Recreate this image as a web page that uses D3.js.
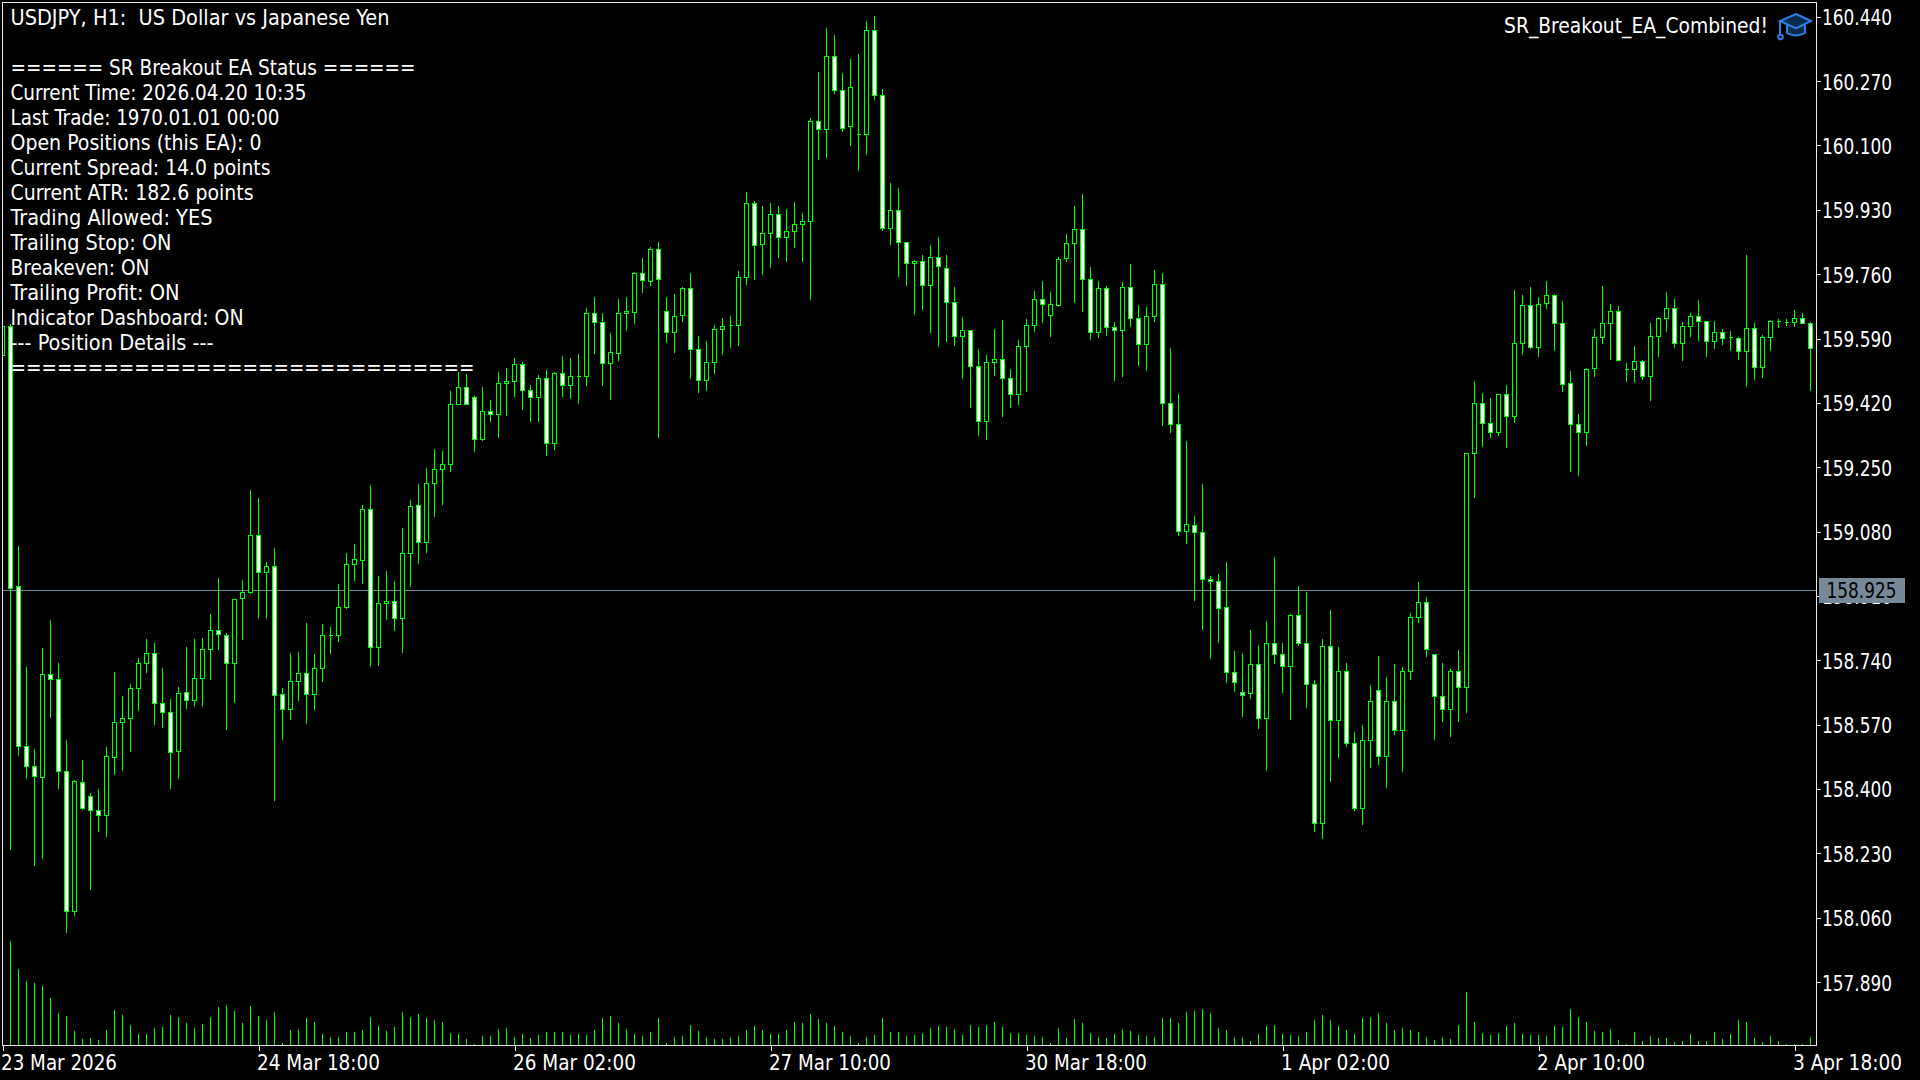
<!DOCTYPE html>
<html><head><meta charset="utf-8">
<script src="https://cdn.jsdelivr.net/npm/d3@7"></script>
<style>
html,body{margin:0;padding:0;background:#000;overflow:hidden}
svg{display:block}
text{font-family:"DejaVu Sans",sans-serif;font-stretch:condensed;fill:#fff;white-space:pre}
</style></head><body>
<script>
const opens=[159.544,159.621,158.935,158.513,158.460,158.431,158.703,158.689,158.447,158.076,
158.417,158.379,158.343,158.330,158.483,158.575,158.586,158.666,158.731,158.758,
158.626,158.602,158.499,158.655,158.634,158.692,158.768,158.819,158.806,158.731,
158.904,158.919,159.069,158.973,158.988,158.649,158.609,158.685,158.706,158.649,
158.719,158.806,158.805,158.879,158.993,159.003,159.139,158.774,158.890,158.896,
158.850,159.022,159.150,159.051,159.207,159.245,159.256,159.416,159.461,159.435,
159.322,159.398,159.388,159.472,159.476,159.522,159.454,159.435,159.485,159.314,
159.498,159.467,159.490,159.489,159.657,159.633,159.525,159.551,159.657,159.660,
159.763,159.741,159.826,159.662,159.607,159.651,159.723,159.562,159.480,159.526,
159.615,159.624,159.625,159.750,159.948,159.838,159.868,159.919,159.858,159.874,
159.890,159.898,160.164,160.143,160.336,160.246,160.149,160.128,160.130,160.405,
160.231,159.882,159.929,159.845,159.788,159.794,159.730,159.805,159.776,159.686,
159.595,159.610,159.517,159.371,159.526,159.535,159.485,159.442,159.569,159.624,
159.694,159.651,159.677,159.801,159.841,159.879,159.747,159.606,159.723,159.620,
159.611,159.726,159.644,159.574,159.648,159.734,159.419,159.364,159.080,159.097,
159.077,158.954,158.948,158.879,158.707,158.654,158.652,158.730,158.586,158.785,
158.756,158.723,158.859,158.785,158.677,158.308,158.777,158.580,158.711,158.521,
158.348,158.528,158.661,158.485,158.632,158.554,158.710,158.854,158.893,158.756,
158.645,158.610,158.711,158.668,159.285,159.419,159.366,159.342,159.443,159.384,
159.577,159.678,159.566,159.682,159.705,159.631,159.470,159.364,159.342,159.511,
159.593,159.631,159.662,159.507,159.509,159.530,159.490,159.595,159.644,159.670,
159.577,159.622,159.649,159.636,159.582,159.607,159.592,159.591,159.556,159.617,
159.513,159.593,159.635,159.632,159.632,159.644,159.631];
const highs=[159.626,159.629,159.043,158.722,158.505,158.773,158.846,158.732,158.530,158.424,
158.477,158.390,158.400,158.511,158.709,158.646,158.677,158.746,158.795,158.786,
158.720,158.638,158.670,158.775,158.795,158.799,158.862,158.957,158.811,158.901,
158.952,159.190,159.169,159.000,159.037,158.667,158.759,158.762,158.839,158.756,
158.836,158.828,158.942,159.024,159.048,159.151,159.203,158.963,158.976,158.950,
159.090,159.164,159.206,159.248,159.299,159.293,159.452,159.502,159.497,159.439,
159.462,159.428,159.502,159.513,159.539,159.528,159.468,159.494,159.507,159.502,
159.544,159.539,159.549,159.671,159.700,159.658,159.605,159.695,159.700,159.765,
159.803,159.832,159.845,159.700,159.708,159.727,159.763,159.597,159.584,159.626,
159.645,159.650,159.769,159.978,159.954,159.941,159.948,159.941,159.933,159.951,
159.922,160.173,160.295,160.411,160.392,160.292,160.329,160.342,160.429,160.443,
160.250,160.001,159.988,159.845,159.798,159.811,159.837,159.859,159.811,159.727,
159.647,159.610,159.563,159.547,159.616,159.639,159.510,159.586,159.642,159.716,
159.742,159.713,159.806,159.867,159.941,159.972,159.779,159.742,159.729,159.634,
159.740,159.787,159.679,159.674,159.771,159.763,159.565,159.444,159.320,159.121,
159.206,158.963,158.968,159.000,158.765,158.759,158.820,158.781,158.844,159.013,
158.786,158.862,158.937,158.921,158.688,158.796,158.873,158.775,158.733,158.551,
158.569,158.675,158.751,158.696,158.730,158.722,158.864,158.947,158.907,158.756,
158.733,158.717,158.767,159.285,159.478,159.446,159.433,159.443,159.468,159.719,
159.705,159.727,159.700,159.742,159.707,159.689,159.505,159.391,159.512,159.616,
159.729,159.682,159.676,159.526,159.571,159.534,159.631,159.646,159.713,159.695,
159.634,159.658,159.692,159.637,159.637,159.616,159.610,159.594,159.811,159.631,
159.600,159.639,159.642,159.642,159.666,159.658,159.634];
const lows=[159.528,158.242,158.491,158.428,158.198,158.217,158.591,158.403,158.021,158.067,
158.347,158.137,158.290,158.277,158.439,158.449,158.501,158.609,158.710,158.572,
158.565,158.403,158.430,158.613,158.619,158.618,158.691,158.771,158.558,158.631,
158.797,158.919,158.851,158.851,158.370,158.533,158.586,158.634,158.575,158.612,
158.684,158.758,158.792,158.879,158.952,158.945,158.726,158.728,158.849,158.820,
158.762,158.937,158.998,159.025,159.122,159.154,159.239,159.416,159.416,159.292,
159.322,159.371,159.329,159.387,159.437,159.404,159.371,159.373,159.283,159.299,
159.439,159.434,159.421,159.468,159.553,159.468,159.431,159.534,159.613,159.631,
159.713,159.732,159.331,159.581,159.555,159.637,159.486,159.450,159.454,159.499,
159.549,159.568,159.573,159.735,159.748,159.761,159.779,159.806,159.795,159.832,
159.795,159.695,160.065,160.070,160.239,160.139,160.102,160.036,160.078,160.223,
159.877,159.840,159.756,159.732,159.655,159.668,159.608,159.571,159.584,159.573,
159.486,159.409,159.335,159.325,159.494,159.386,159.409,159.417,159.452,159.610,
159.634,159.597,159.677,159.795,159.687,159.663,159.589,159.594,159.600,159.481,
159.491,159.623,159.520,159.507,159.637,159.362,159.344,159.071,159.051,158.899,
158.823,158.747,158.789,158.683,158.659,158.593,158.641,158.561,158.450,158.733,
158.656,158.585,158.781,158.617,158.289,158.271,158.421,158.485,158.514,158.344,
158.307,158.458,158.466,158.405,158.545,158.448,158.691,158.841,158.751,158.532,
158.580,158.540,158.580,158.604,159.172,159.306,159.330,159.334,159.304,159.370,
159.549,159.566,159.544,159.671,159.560,159.452,159.240,159.230,159.309,159.491,
159.579,159.536,159.532,159.478,159.476,159.483,159.428,159.544,159.610,159.568,
159.534,159.597,159.587,159.544,159.565,159.576,159.560,159.536,159.465,159.483,
159.489,159.560,159.621,159.626,159.623,159.631,159.454];
const closes=[159.621,158.930,158.513,158.460,158.433,158.703,158.690,158.447,158.077,158.421,
158.348,158.344,158.330,158.486,158.575,158.586,158.666,158.731,158.758,158.625,
158.602,158.497,158.653,158.635,158.692,158.768,158.819,158.807,158.731,158.901,
158.919,159.069,158.973,158.988,158.646,158.609,158.685,158.705,158.649,158.719,
158.806,158.806,158.880,158.994,159.005,159.139,158.774,158.891,158.896,158.850,
159.023,159.147,159.051,159.208,159.245,159.256,159.417,159.461,159.416,159.322,
159.398,159.388,159.472,159.477,159.522,159.454,159.435,159.485,159.314,159.498,
159.467,159.490,159.490,159.657,159.633,159.525,159.554,159.657,159.662,159.763,
159.742,159.826,159.747,159.607,159.649,159.723,159.562,159.480,159.527,159.615,
159.623,159.624,159.750,159.948,159.837,159.868,159.919,159.858,159.874,159.890,
159.898,160.164,160.143,160.336,160.246,160.146,160.254,160.128,160.405,160.231,
159.882,159.929,159.845,159.789,159.794,159.730,159.805,159.779,159.685,159.595,
159.610,159.516,159.371,159.527,159.535,159.484,159.442,159.570,159.625,159.694,
159.680,159.681,159.800,159.842,159.879,159.746,159.606,159.723,159.619,159.611,
159.726,159.643,159.574,159.649,159.734,159.418,159.363,159.080,159.100,159.078,
158.953,158.949,158.876,158.707,158.681,158.646,158.730,158.586,158.785,158.755,
158.723,158.859,158.784,158.676,158.308,158.777,158.580,158.711,158.520,158.348,
158.529,158.632,158.485,158.632,158.554,158.711,158.854,158.893,158.769,158.644,
158.610,158.711,158.668,159.285,159.419,159.366,159.342,159.443,159.384,159.578,
159.678,159.566,159.681,159.705,159.631,159.468,159.363,159.342,159.509,159.594,
159.631,159.662,159.532,159.507,159.530,159.490,159.596,159.644,159.670,159.577,
159.623,159.649,159.635,159.582,159.607,159.590,159.592,159.557,159.617,159.513,
159.594,159.636,159.635,159.632,159.644,159.631,159.564];
const volumes=[2500,3130,2290,1930,1870,1780,1420,970,880,430,
190,220,160,460,1060,910,610,340,340,520,
550,910,850,670,520,640,850,1150,1210,1030,
670,1180,880,760,1000,60,460,490,820,700,
340,250,250,400,400,460,850,580,430,550,
1000,850,940,820,760,700,370,340,190,40,
280,280,490,520,250,340,220,310,400,400,
400,310,340,310,460,820,880,670,490,340,
280,400,820,70,250,280,610,430,250,190,
190,250,280,460,580,460,340,340,460,700,
670,940,790,670,580,400,280,70,250,310,
820,400,400,280,310,370,520,580,550,490,
310,610,550,610,700,550,370,370,310,280,
250,70,520,220,790,670,370,250,220,340,
490,430,310,280,250,820,820,670,1000,1030,
1090,970,520,460,250,250,130,340,580,610,
340,310,280,400,760,910,760,580,460,340,
820,850,970,670,460,520,460,400,250,160,
250,190,610,1600,700,370,310,370,580,670,
340,310,310,280,580,550,1090,850,700,430,
400,490,160,40,400,130,280,220,220,100,
130,340,130,130,400,190,340,760,700,220,
100,280,130,20,20,40,250];
const priceTicks=[160.44,160.27,160.10,159.93,159.76,159.59,159.42,159.25,159.08,158.91,158.74,158.57,158.40,158.23,158.06,157.89];
const timeTickBars=[0,32,64,96,128,160,192,224];
const timeTickLabels=["23 Mar 2026","24 Mar 18:00","26 Mar 02:00","27 Mar 10:00","30 Mar 18:00","1 Apr 02:00","2 Apr 10:00","3 Apr 18:00"];
const bidPrice=158.925;
const statusLines=["USDJPY, H1:  US Dollar vs Japanese Yen","","====== SR Breakout EA Status ======","Current Time: 2026.04.20 10:35","Last Trade: 1970.01.01 00:00","Open Positions (this EA): 0","Current Spread: 14.0 points","Current ATR: 182.6 points","Trading Allowed: YES","Trailing Stop: ON","Breakeven: ON","Trailing Profit: ON","Indicator Dashboard: ON","--- Position Details ---","=============================="];
const expertName="SR_Breakout_EA_Combined!";

// rendered text widths, measured on the screen
const statusTextLengths=[379,0,405,296,269,251,260,243,202,161,139,169,233,203,464];
const timeTextLengths=[116,123,123,122,122,109,108,109];
const priceTextLength=70;

const W=1920,H=1080,L=2,T=2,R=1816,B=1045,FS=21;
const GREEN="#00ff00",FG="#e8e8e8",BID="#778899";
const svg=d3.select("body").append("svg").attr("width",W).attr("height",H).style("background","#000");
const x=d3.scaleLinear().domain([0,opens.length-1]).range([2.5,1810.5]);
const y=d3.scaleLinear().domain([160.44,157.89]).range([16.8,982]);
const v=d3.scaleLinear().domain([0,3120]).range([B,B-104]);
const snap=p=>Math.floor(y(p))+.5;
svg.append("clipPath").attr("id","plot").append("rect").attr("x",L+1).attr("y",T+1).attr("width",R-L-1).attr("height",B-T-1);
const plot=svg.append("g").attr("clip-path","url(#plot)").attr("shape-rendering","crispEdges");

// volumes
plot.append("g").selectAll("line").data(volumes).join("line")
 .attr("x1",(d,i)=>x(i)).attr("x2",(d,i)=>x(i)).attr("y1",B).attr("y2",d=>Math.round(v(d)))
 .attr("stroke",GREEN);
// bid line
plot.append("line").attr("x1",L).attr("x2",R).attr("y1",snap(bidPrice)).attr("y2",snap(bidPrice)).attr("stroke",BID);
// wicks
plot.append("g").selectAll("line").data(opens).join("line")
 .attr("x1",(d,i)=>x(i)).attr("x2",(d,i)=>x(i))
 .attr("y1",(d,i)=>Math.round(y(highs[i]))).attr("y2",(d,i)=>Math.round(y(lows[i]))+1)
 .attr("stroke",GREEN);
// bodies
plot.append("g").selectAll("path").data(opens).join("path")
 .attr("d",(d,i)=>{
   const p=d3.path(),a=snap(Math.max(d,closes[i])),b=snap(Math.min(d,closes[i])),c=x(i);
   p.moveTo(c-2,a);p.lineTo(c+2,a);p.lineTo(c+2,b);p.lineTo(c-2,b);p.closePath();return p.toString();})
 .attr("fill",(d,i)=>closes[i]<d?"#fff":"#000").attr("stroke",GREEN);

// text overlay
const fit=(sel,len)=>sel.attr("textLength",len).attr("lengthAdjust","spacingAndGlyphs");
const tg=svg.append("g").attr("font-size",FS);
tg.selectAll("text").data(statusLines).join("text").attr("x",10.5).attr("y",(d,i)=>25+i*25).text(d=>d)
  .each(function(d,i){ if(statusTextLengths[i]) fit(d3.select(this),statusTextLengths[i]); });
fit(tg.append("text").attr("x",1504).attr("y",33).text(expertName),264);

// cap icon
const cap=svg.append("g").attr("fill","none").attr("stroke","#2b7fe6").attr("stroke-width",2);
cap.append("path").attr("d","M1787 25V33Q1796 38 1805 33V25").attr("fill","#0b2a4d");
cap.append("path").attr("d","M1796 14L1811 21L1796 28.5L1780 21Z").attr("fill","#0b2a4d");
cap.append("path").attr("d","M1780 21V34");
cap.append("circle").attr("cx",1780.5).attr("cy",37).attr("r",2.3);

// axes
const yAxis=d3.axisRight(y).tickValues(priceTicks).tickFormat(d3.format(".3f")).tickSize(4).tickPadding(0);
const ya=svg.append("g").attr("transform",`translate(${R+.5},0)`).call(yAxis);
ya.select(".domain").remove();
ya.selectAll(".tick line").attr("stroke",FG).attr("shape-rendering","crispEdges");
ya.selectAll(".tick text").attr("font-size",FS).attr("fill","#fff").attr("dy",8).attr("x",5.5).attr("font-family",null)
  .attr("textLength",priceTextLength).attr("lengthAdjust","spacingAndGlyphs");

const xt=d3.scaleLinear().domain(x.domain()).range(x.range());
const xAxis=d3.axisBottom(xt).tickValues(timeTickBars).tickFormat((d,i)=>timeTickLabels[i]).tickSize(5);
const xa=svg.append("g").attr("transform",`translate(0,${B+.5})`).call(xAxis);
xa.select(".domain").remove();
xa.selectAll(".tick line").attr("stroke",FG).attr("shape-rendering","crispEdges");
xa.selectAll(".tick text").attr("font-size",FS).attr("fill","#fff").attr("font-family",null).attr("text-anchor","start")
  .attr("x",-2).attr("y",24).attr("dy",0)
  .each(function(d,i){ fit(d3.select(this),timeTextLengths[i]); });

// frame
const fr=svg.append("g").attr("stroke",FG).attr("shape-rendering","crispEdges");
fr.append("line").attr("x1",L).attr("x2",R+1).attr("y1",T+.5).attr("y2",T+.5);
fr.append("line").attr("x1",L).attr("x2",R+1).attr("y1",B+.5).attr("y2",B+.5);
fr.append("line").attr("x1",L+.5).attr("x2",L+.5).attr("y1",T).attr("y2",B+1);
fr.append("line").attr("x1",R+.5).attr("x2",R+.5).attr("y1",T).attr("y2",B+1);

// bid label
const by=Math.round(y(bidPrice));
svg.append("rect").attr("x",1819).attr("y",by-12).attr("width",86).attr("height",25).attr("fill",BID);
fit(svg.append("text").attr("x",1826.5).attr("y",by+8).attr("font-size",FS).style("fill","#000").text(d3.format(".3f")(bidPrice)),priceTextLength);
</script>
</body></html>
